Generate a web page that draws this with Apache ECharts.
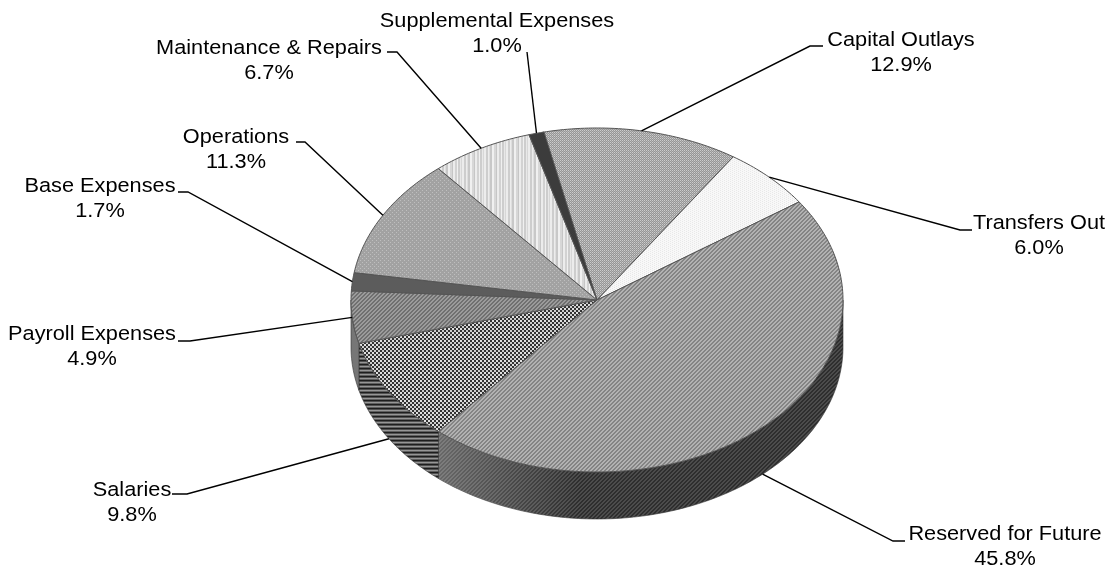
<!DOCTYPE html>
<html><head><meta charset="utf-8">
<style>html,body{margin:0;padding:0;background:#fff}#c{width:1116px;height:572px}</style>
<script src="https://cdn.jsdelivr.net/npm/echarts@6/dist/echarts.min.js"></script>
</head><body><div id="c"></div>
<script>
const categories = ['Capital Outlays','Transfers Out','Reserved for Future','Salaries','Payroll Expenses','Base Expenses','Operations','Maintenance & Repairs','Supplemental Expenses'];
const shares = [12.9,6.0,45.8,9.8,4.9,1.7,11.3,6.7,1.0];

// Layout (not data)
const CX=597, CY=300, RX=246, RY=172, DEPTH=47, START=-12.8;
const labelCenter=[[901,53],[1039,236],[1005,547],[132,503],[92,347],[100,199],[236,150],[269,61],[497,34]];
const labelElbow=[[[823,46],[810,46]],[[972,230],[960,230]],[[905,541],[893,541]],[[172,494],[187,494]],[[178,341],[190,341]],[[178,192],[188,192]],[[296,142],[305,142]],[[387,52],[397,52]],[[527,52]]];

function tile(w,h,fn){
  const c=document.createElement('canvas');c.width=w;c.height=h;const g=c.getContext('2d');
  for(let y=0;y<h;y++)for(let x=0;x<w;x++){const v=fn(x,y);g.fillStyle='rgb('+v+','+v+','+v+')';g.fillRect(x,y,1,1);}
  return {image:c,repeat:'repeat'};
}
const topFill=[
  tile(4,4,(x,y)=>((x+y)%2===0)?(y%2===0?205:180):150),
  tile(4,4,(x,y)=>((x+y*2)%4===0)?232:248),
  tile(4,4,(x,y)=>((x+y)%4<2)?178:132),
  tile(4,4,(x,y)=>(x%4<2&&y%4<2)?225:(x%4>=2&&y%4>=2)?205:50),
  tile(4,4,(x,y)=>((x+y)%4<2)?155:112),
  '#5c5c5c',
  tile(4,4,(x,y)=>((x%4<1&&y%4<1)||(x%4===2&&y%4===2))?190:162),
  tile(22,1,(x)=>[236,236,205,205,236,222,200,200,240,240,215,215,198,236,236,210,210,240,205,205,232,215][x]),
  '#3c3c3c'
];
const wallFill=[
  '#777','#777',
  tile(4,4,(x,y)=>((x+y)%4<2)?76:46),
  tile(1,4,(x,y)=>[30,80,150,95][y]),
  '#767676','#5a5a5a','#777','#777','#555'
];
const wallOverlay={type:'linear',x:0,y:0,x2:1,y2:0,colorStops:[{offset:0,color:'rgba(255,255,255,0.28)'},{offset:0.35,color:'rgba(255,255,255,0)'},{offset:1,color:'rgba(255,255,255,0)'}]};

function startOf(i){let s=START;for(let k=0;k<i;k++)s+=shares[k]*3.6;return s;}
function pt(a,dy){const r=a*Math.PI/180;return [CX+RX*Math.sin(r),CY-RY*Math.cos(r)+(dy||0)];}
function arc(a0,a1,dy){const n=Math.max(2,Math.ceil(Math.abs(a1-a0)));const o=[];for(let j=0;j<=n;j++)o.push(pt(a0+(a1-a0)*j/n,dy));return o;}

function renderWall(params,api){
  const i=params.dataIndex,a0=startOf(i),a1=a0+api.value(0)*3.6;
  const lo=Math.max(a0,90),hi=Math.min(a1,270);
  if(hi<=lo)return {type:'group',children:[]};
  const points=arc(lo,hi,0).concat(arc(hi,lo,DEPTH));
  const ch=[{type:'polygon',shape:{points},style:{fill:wallFill[i],stroke:'#333',lineWidth:0.6}}];
  if(i===2)ch.push({type:'polygon',shape:{points},style:{fill:wallOverlay}});
  return {type:'group',children:ch};
}
function renderTop(params,api){
  const i=params.dataIndex,a0=startOf(i),a1=a0+api.value(0)*3.6;
  return {type:'polygon',shape:{points:[[CX,CY]].concat(arc(a0,a1,0))},style:{fill:topFill[i],stroke:'#555',lineWidth:1}};
}
function renderLabel(params,api){
  const i=params.dataIndex,v=api.value(0),a0=startOf(i),mid=a0+v*1.8;
  const cos=Math.cos(mid*Math.PI/180);
  const p=pt(mid,cos<-0.3?DEPTH:0);
  const pts=labelElbow[i].concat([p]);
  return {type:'group',children:[
    {type:'polyline',shape:{points:pts},style:{fill:null,stroke:'#000',lineWidth:1.4}},
    {type:'text',x:labelCenter[i][0],y:labelCenter[i][1],scaleX:1.06,scaleY:1,style:{text:categories[i]+'\n'+v.toFixed(1)+'%',x:0,y:0,align:'center',verticalAlign:'middle',fontFamily:'"Liberation Sans",Arial,sans-serif',fontSize:20.5,lineHeight:25,fill:'#000'}}
  ]};
}
const seriesData=categories.map((n,i)=>({name:n,value:[shares[i]]}));
const base={type:'custom',coordinateSystem:'none',silent:true,clip:false,data:seriesData,animation:false};
const chart=echarts.init(document.getElementById('c'),null,{renderer:'canvas'});
chart.setOption({animation:false,backgroundColor:'#fff',series:[
  Object.assign({},base,{name:'wall',z:1,renderItem:renderWall}),
  Object.assign({},base,{name:'top',z:2,renderItem:renderTop}),
  Object.assign({},base,{name:'labels',z:3,renderItem:renderLabel})
]});
</script></body></html>
